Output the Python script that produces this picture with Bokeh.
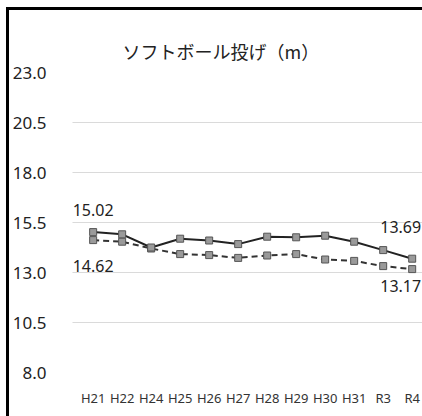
from bokeh.plotting import figure
from bokeh.layouts import column, row
from bokeh.models import ColumnDataSource, FixedTicker, Range1d, NumeralTickFormatter, Title, Label, Div
from bokeh.embed import file_html
from bokeh.resources import INLINE

categories = ["H21", "H22", "H24", "H25", "H26", "H27", "H28", "H29", "H30", "H31", "R3", "R4"]
solid_vals = [15.02, 14.91, 14.25, 14.69, 14.60, 14.42, 14.79, 14.76, 14.84, 14.54, 14.12, 13.69]
dashed_vals = [14.62, 14.54, 14.20, 13.92, 13.87, 13.73, 13.85, 13.92, 13.65, 13.58, 13.32, 13.17]
y_ticks = [8.0, 10.5, 13.0, 15.5, 18.0, 20.5, 23.0]
title_text = "ソフトボール投げ（m）"

xs = list(range(len(categories)))

p = figure(width=413, height=406, output_backend="svg", toolbar_location=None,
           x_range=Range1d(-0.712, 11.356), y_range=Range1d(8.0, 23.0),
           min_border_left=57, min_border_right=0, min_border_top=62, min_border_bottom=44)
p.outline_line_color = None
p.background_fill_color = "white"
p.border_fill_color = "white"

t = Title(text=title_text, align="left", offset=50, text_font="Noto Sans CJK JP",
          text_font_size="18px", text_font_style="normal", text_color="#222222", standoff=18)
p.add_layout(t, "above")

# axes
p.yaxis.ticker = FixedTicker(ticks=y_ticks)
p.yaxis.formatter = NumeralTickFormatter(format="0.0")
p.yaxis.axis_line_color = None
p.yaxis.major_tick_line_color = None
p.yaxis.minor_tick_line_color = None
p.yaxis.major_label_standoff = 20
p.yaxis.major_label_text_font = "Noto Sans"
p.yaxis.major_label_text_font_size = "17px"
p.yaxis.major_label_text_color = "#222222"

p.xaxis.ticker = FixedTicker(ticks=xs)
p.xaxis.major_label_overrides = {i: c for i, c in enumerate(categories)}
p.xaxis.axis_line_color = None
p.xaxis.major_tick_line_color = None
p.xaxis.minor_tick_line_color = None
p.xaxis.major_label_standoff = 10
p.xaxis.major_label_text_font = "Noto Sans"
p.xaxis.major_label_text_font_size = "13px"
p.xaxis.major_label_text_color = "#333333"

p.xgrid.grid_line_color = None
p.ygrid.grid_line_color = "#b4b4b4"
p.ygrid.grid_line_dash = "1 1"
p.ygrid.grid_line_width = 1

src = ColumnDataSource(dict(x=xs, solid=solid_vals, dashed=dashed_vals))

p.line("x", "dashed", source=src, line_color="#333333", line_width=2, line_dash="6 4")
p.line("x", "solid", source=src, line_color="#222222", line_width=2)
p.scatter("x", "dashed", source=src, marker="square", size=7, fill_color="#9a9a9a", line_color="#555555")
p.scatter("x", "solid", source=src, marker="square", size=7, fill_color="#9a9a9a", line_color="#555555")

# data labels at first and last points
n = len(categories) - 1
def add_label(xv, yv, align, xo, yo):
    p.add_layout(Label(x=xv, y=yv, text="%.2f" % yv, text_align=align, text_baseline="middle",
                       x_offset=xo, y_offset=yo, text_font="Noto Sans", text_font_size="16px",
                       text_color="#222222"))

add_label(0, solid_vals[0], "center", 0, 22)
add_label(0, dashed_vals[0], "center", 0, -26)
add_label(n, solid_vals[n], "right", 9, 32)
add_label(n, dashed_vals[n], "right", 9, -17)

# black frame edges (top and left) of the chart box
top_bar = Div(text="", width=416, height=3, margin=(7, 0, 0, 6), styles={"background-color": "black"})
left_bar = Div(text="", width=3, height=406, margin=(0, 0, 0, 6), styles={"background-color": "black"})
p.margin = (0, 0, 0, 0)
layout = column(top_bar, row(left_bar, p, spacing=0), spacing=0)

open("out.html", "w").write(file_html(layout, INLINE))
